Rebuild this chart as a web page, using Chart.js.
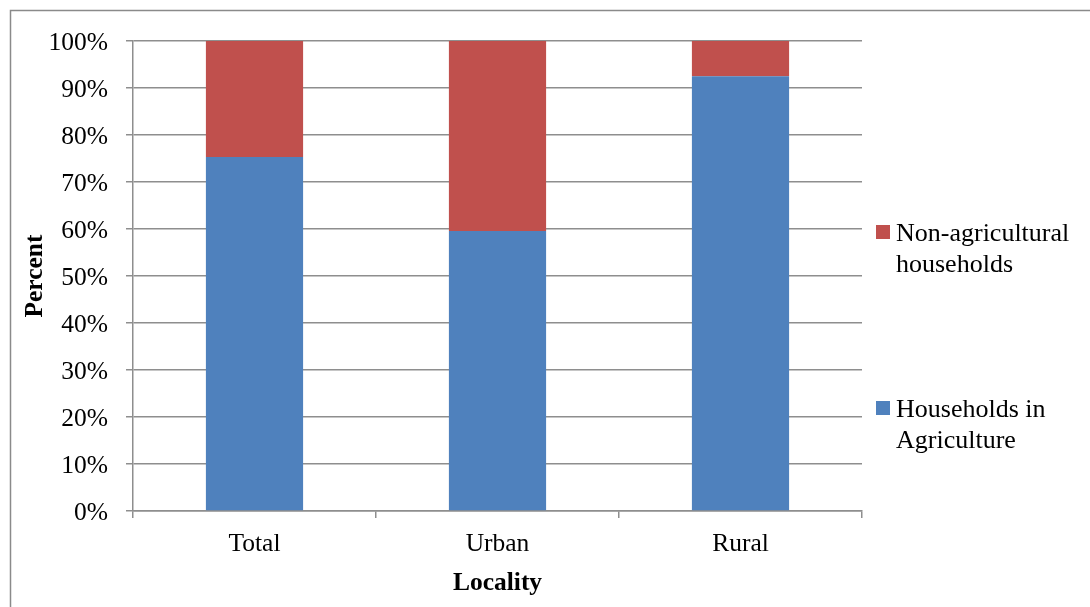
<!DOCTYPE html>
<html>
<head>
<meta charset="utf-8">
<title>Households by locality</title>
<script src="https://cdn.jsdelivr.net/npm/chart.js@4/dist/chart.umd.min.js"></script>
<style>
  html, body { margin: 0; padding: 0; background: #fff; }
  #wrap { width: 1090px; height: 607px; position: relative; }
</style>
</head>
<body>
<div id="wrap"><canvas id="c" width="1090" height="607"></canvas></div>
<script>
// Share of households (percent) per locality
const categories = ['Total', 'Urban', 'Rural'];
const agriculture = [75.3, 59.6, 92.5];
const nonAgricultural = [24.7, 40.4, 7.5];
const yTicks = [0, 10, 20, 30, 40, 50, 60, 70, 80, 90, 100];

const seriesNames = ['Households in Agriculture', 'Non-agricultural households'];
const legendLines = [
  { color: '#C0504D', lines: ['Non-agricultural', 'households'] },
  { color: '#4F81BD', lines: ['Households in', 'Agriculture'] }
];

const FONT = "'Liberation Serif', 'Times New Roman', serif";
const GRID = '#8e8e8e';

// Outer frame and the side legend
const decorations = {
  id: 'decorations',
  afterDraw(chart) {
    const ctx = chart.ctx;
    ctx.save();
    ctx.strokeStyle = '#8a8a8a';
    ctx.lineWidth = 1.5;
    ctx.strokeRect(10.5, 10.5, 1100, 620);

    ctx.font = '26px ' + FONT;
    ctx.fillStyle = '#000';
    ctx.textBaseline = 'alphabetic';
    const blocks = [241, 417];
    legendLines.forEach((item, i) => {
      const base = blocks[i];
      ctx.fillStyle = item.color;
      ctx.fillRect(876, base - 16, 14, 14);
      ctx.fillStyle = '#000';
      item.lines.forEach((t, j) => ctx.fillText(t, 896, base + j * 30.5));
    });
    ctx.restore();
  }
};

new Chart(document.getElementById('c'), {
  type: 'bar',
  data: {
    labels: categories,
    datasets: [
      { label: seriesNames[0], data: agriculture, backgroundColor: '#4F81BD',
        categoryPercentage: 0.4, barPercentage: 1 },
      { label: seriesNames[1], data: nonAgricultural, backgroundColor: '#C0504D',
        categoryPercentage: 0.4, barPercentage: 1 }
    ]
  },
  options: {
    responsive: false,
    animation: false,
    events: [],
    layout: { padding: { top: 41, right: 228, left: 20, bottom: 0 } },
    plugins: { legend: { display: false }, tooltip: { enabled: false } },
    scales: {
      x: {
        stacked: true,
        afterFit(scale) { scale.height = 96; },
        grid: { display: true, drawOnChartArea: false, drawTicks: true, tickLength: 7,
                color: GRID, lineWidth: 1.5, offset: true },
        border: { display: true, color: GRID, width: 1.5 },
        ticks: { color: '#000', font: { family: FONT, size: 25.5 }, padding: 11 },
        title: { display: true, text: 'Locality', color: '#000',
                 font: { family: FONT, size: 25.5, weight: 'bold' },
                 padding: { top: 4, bottom: 8 } }
      },
      y: {
        stacked: true,
        min: 0, max: 100,
        afterFit(scale) { scale.width = 113; },
        afterBuildTicks(scale) { scale.ticks = yTicks.map(v => ({ value: v })); },
        grid: { color: GRID, lineWidth: 1.5, tickLength: 7, drawTicks: true },
        border: { display: true, color: GRID, width: 1.5 },
        ticks: { color: '#000', font: { family: FONT, size: 25.5 }, padding: 18,
                 labelOffset: 2, callback: v => v + '%' },
        title: { display: true, text: 'Percent', color: '#000',
                 font: { family: FONT, size: 25.5, weight: 'bold' },
                 padding: { top: 0, bottom: 0 } }
      }
    }
  },
  plugins: [decorations]
});
</script>
</body>
</html>
